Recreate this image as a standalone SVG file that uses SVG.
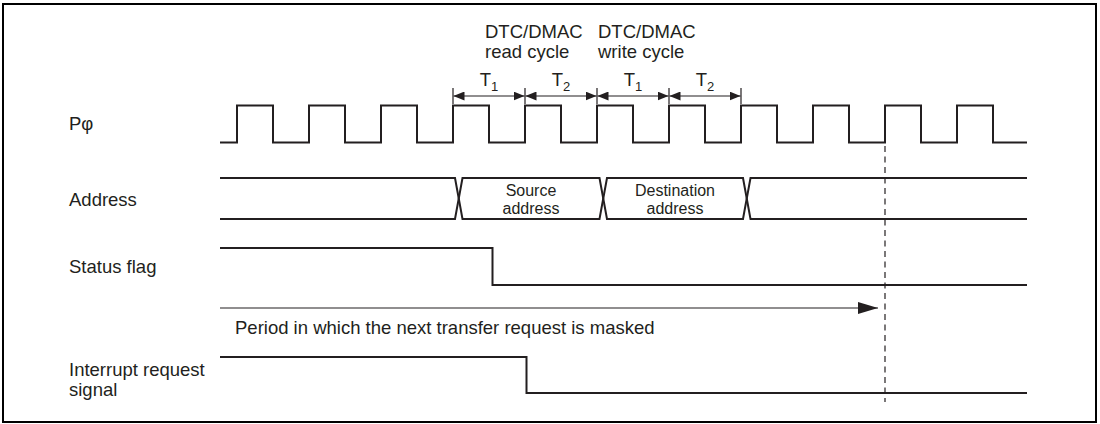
<svg xmlns="http://www.w3.org/2000/svg" width="1100" height="424" viewBox="0 0 1100 424">
<style>
text{font-family:"Liberation Sans",Arial,sans-serif;font-size:18.5px;fill:#231f20}
.s{font-size:16px}
.w{fill:none;stroke:#231f20;stroke-width:2}
.t{fill:none;stroke:#231f20;stroke-width:1.2}
.d{fill:none;stroke:#231f20;stroke-width:1.2;stroke-dasharray:6 4.5}
</style>
<defs>
<marker id="ah" viewBox="0 0 11 9" refX="11" refY="4.5" markerWidth="11" markerHeight="9" markerUnits="userSpaceOnUse" orient="auto-start-reverse">
<path d="M0,0 L11,4.5 L0,9 Z" fill="#231f20"/>
</marker>
<marker id="ab" viewBox="0 0 20 12" refX="20" refY="6" markerWidth="20" markerHeight="12" markerUnits="userSpaceOnUse" orient="auto">
<path d="M0,0 L20,6 L0,12 Z" fill="#231f20"/>
</marker>
</defs>
<rect x="3" y="4" width="1093" height="418" fill="#fff" stroke="#000" stroke-width="2"/>
<g id="labels">
<text x="69" y="130">Pφ</text>
<text x="69" y="206">Address</text>
<text x="69" y="273">Status flag</text>
<text x="69" y="376">Interrupt request</text>
<text x="69" y="396">signal</text>
</g>
<g id="clock">
<path class="w" d="M220 142.5 H237 V105.5 H273 V142.5 H309 V105.5 H345 V142.5 H381 V105.5 H417 V142.5 H453 V105.5 H489 V142.5 H525 V105.5 H561 V142.5 H597 V105.5 H633 V142.5 H669 V105.5 H705 V142.5 H741 V105.5 H777 V142.5 H813 V105.5 H849 V142.5 H885 V105.5 H921 V142.5 H957 V105.5 H993 V142.5 H1027"/>
</g>
<g id="address">
<path class="w" d="M220 178 H455 L462.5 219 H599.5 L607 178 H743 L750.5 219 H1027"/>
<path class="w" d="M220 219 H455 L462.5 178 H599.5 L607 219 H743 L750.5 178 H1027"/>
<text class="s" x="531" y="195.5" text-anchor="middle">Source</text>
<text class="s" x="531" y="214" text-anchor="middle">address</text>
<text class="s" x="675" y="195.5" text-anchor="middle">Destination</text>
<text class="s" x="675" y="214" text-anchor="middle">address</text>
</g>
<g id="status">
<path class="w" d="M220 248 H492.5 V285 H1027"/>
</g>
<g id="interrupt">
<path class="w" d="M220 357 H526.5 V393 H1027"/>
</g>
<g id="cycles">
<text x="485" y="38">DTC/DMAC</text>
<text x="485" y="58">read cycle</text>
<text x="598" y="38">DTC/DMAC</text>
<text x="598" y="58">write cycle</text>
<text x="489" y="86" text-anchor="middle">T<tspan font-size="13" dy="5">1</tspan></text>
<text x="561" y="86" text-anchor="middle">T<tspan font-size="13" dy="5">2</tspan></text>
<text x="633" y="86" text-anchor="middle">T<tspan font-size="13" dy="5">1</tspan></text>
<text x="705" y="86" text-anchor="middle">T<tspan font-size="13" dy="5">2</tspan></text>
</g>
<g id="connectors">
<path class="t" d="M453 88 V104 M525 88 V104 M597 88 V104 M669 88 V104 M741 88 V104"/>
<line class="t" x1="453.5" y1="96" x2="524.5" y2="96" marker-start="url(#ah)" marker-end="url(#ah)"/>
<line class="t" x1="525.5" y1="96" x2="596.5" y2="96" marker-start="url(#ah)" marker-end="url(#ah)"/>
<line class="t" x1="597.5" y1="96" x2="668.5" y2="96" marker-start="url(#ah)" marker-end="url(#ah)"/>
<line class="t" x1="669.5" y1="96" x2="740.5" y2="96" marker-start="url(#ah)" marker-end="url(#ah)"/>
<line class="t" x1="220" y1="308" x2="878" y2="308" marker-end="url(#ab)"/>
<line class="d" x1="885" y1="146" x2="885" y2="402"/>
</g>
<text x="235" y="334">Period in which the next transfer request is masked</text>
</svg>
